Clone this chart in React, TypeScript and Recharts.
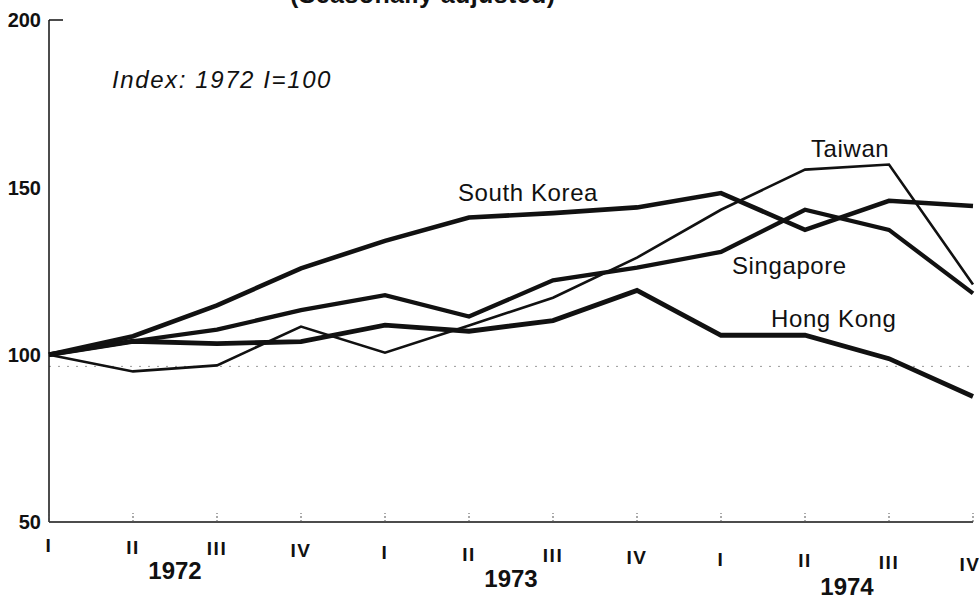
import React from 'react';
import { LineChart, Line, XAxis, YAxis, ReferenceLine } from 'recharts';

const quarters = ['I', 'II', 'III', 'IV', 'I', 'II', 'III', 'IV', 'I', 'II', 'III', 'IV'];
const years = ['1972', '1973', '1974'];
const periods = quarters.map((q, i) => `${years[Math.floor(i / 4)]} ${q}`);

const southKorea = [100, 105.5, 114.7, 125.8, 134, 141, 142.3, 144, 148.3, 137.3, 146, 144.4];
const taiwan = [100, 95, 96.8, 108.4, 100.6, 108.7, 117, 129, 143.3, 155.3, 156.8, 121];
const singapore = [100, 104, 107.5, 113.3, 117.8, 111.4, 122.2, 126, 130.7, 143.3, 137.3, 118.3];
const hongKong = [100, 104, 103.3, 103.9, 108.8, 107, 110.2, 119.2, 105.8, 105.8, 98.8, 87.5];

const yTicks = [50, 100, 150, 200];
const faintRefValue = 96.5;

const data = periods.map((p, i) => ({
  period: p,
  sk: southKorea[i],
  tw: taiwan[i],
  sg: singapore[i],
  hk: hongKong[i],
}));

const FONT = '"Liberation Sans", Arial, Helvetica, sans-serif';
const INK = '#111';

const XTick = (props: any) => {
  const { x, y, payload, index } = props;
  const i = typeof index === 'number' ? index : periods.indexOf(payload.value);
  const q = quarters[i];
  const last = i === quarters.length - 1;
  return (
    <g>
      <line x1={x} y1={y} x2={x} y2={y - 9} stroke="#555" strokeWidth={1} strokeDasharray="2 2" />
      <text
        x={last ? x - 3 : x}
        y={y + 30 + i * 1.7}
        textAnchor="middle"
        fontFamily={FONT}
        fontWeight="bold"
        fontSize={19}
        letterSpacing={1.5}
        fill={INK}
      >
        {q}
      </text>
      {i % 4 === 1 ? (
        <text
          x={x + 42}
          y={577.5 + i * 1.9}
          textAnchor="middle"
          fontFamily={FONT}
          fontWeight="bold"
          fontSize={24}
          fill={INK}
        >
          {years[Math.floor(i / 4)]}
        </text>
      ) : null}
    </g>
  );
};

const YTick = (props: any) => {
  const { x, y, payload } = props;
  return (
    <g>
      {payload.value === 200 ? (
        <line x1={x} y1={y} x2={x + 14} y2={y} stroke={INK} strokeWidth={1.5} />
      ) : null}
      <text
        x={x - 8}
        y={y}
        dy="0.36em"
        textAnchor="end"
        fontFamily={FONT}
        fontWeight="bold"
        fontSize={20}
        fill={INK}
      >
        {payload.value}
      </text>
    </g>
  );
};

const makeLabel = (name: string, atIndex: number, dx: number, dy: number) => (props: any) => {
  const { x, y, index } = props;
  if (index !== atIndex) return null;
  return (
    <text
      key={name}
      x={x + dx}
      y={y + dy}
      textAnchor="start"
      fontFamily={FONT}
      fontSize={24}
      letterSpacing={0.6}
      fill={INK}
    >
      {name}
    </text>
  );
};

export default function App() {
  return (
    <div style={{ position: 'absolute', left: 0, top: 0, width: 979, height: 599, background: '#fff' }}>
      <LineChart
        width={979}
        height={599}
        data={data}
        margin={{ top: 20, right: 6, bottom: 0, left: 0 }}
      >
        <text
          x={290}
          y={3}
          fontFamily={FONT}
          fontWeight="bold"
          fontSize={25}
          letterSpacing={0.4}
          fill={INK}
        >
          (Seasonally adjusted)
        </text>
        <text
          x={112}
          y={88}
          fontFamily={FONT}
          fontStyle="italic"
          fontSize={24}
          letterSpacing={1.6}
          fill={INK}
        >
          Index: 1972 I=100
        </text>
        <XAxis
          dataKey="period"
          interval={0}
          height={77}
          tickLine={false}
          tickSize={0}
          tickMargin={0}
          axisLine={{ stroke: INK, strokeWidth: 1.5 }}
          tick={<XTick />}
        />
        <YAxis
          domain={[50, 200]}
          ticks={yTicks}
          width={49}
          tickLine={false}
          tickSize={0}
          tickMargin={0}
          axisLine={{ stroke: INK, strokeWidth: 1.5 }}
          tick={<YTick />}
        />
        <ReferenceLine y={faintRefValue} stroke="#999" strokeWidth={1} strokeDasharray="2 7" />
        <Line
          dataKey="tw"
          stroke={INK}
          strokeWidth={2.6}
          dot={false}
          activeDot={false}
          isAnimationActive={false}
          label={makeLabel('Taiwan', 10, -78, -8)}
        />
        <Line
          dataKey="hk"
          stroke={INK}
          strokeWidth={4.8}
          dot={false}
          activeDot={false}
          isAnimationActive={false}
          label={makeLabel('Hong Kong', 9, -34, -8)}
        />
        <Line
          dataKey="sg"
          stroke={INK}
          strokeWidth={4.2}
          dot={false}
          activeDot={false}
          isAnimationActive={false}
          label={makeLabel('Singapore', 8, 11, 22)}
        />
        <Line
          dataKey="sk"
          stroke={INK}
          strokeWidth={4.6}
          dot={false}
          activeDot={false}
          isAnimationActive={false}
          label={makeLabel('South Korea', 6, -95, -12)}
        />
      </LineChart>
    </div>
  );
}
